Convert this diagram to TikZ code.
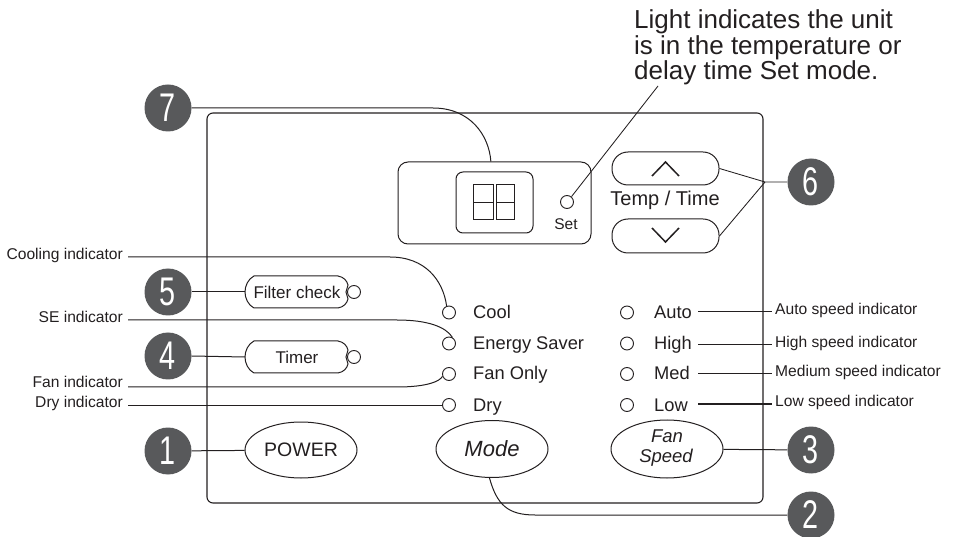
\documentclass[tikz,border=0pt]{standalone}
\usepackage{fontspec}
\setmainfont{Liberation Sans}
\usetikzlibrary{shapes.geometric}
\definecolor{ink}{HTML}{231F20}
\definecolor{badgegray}{HTML}{58595B}
\tikzset{
  ln/.style={draw=ink, line width=1pt},
  thin/.style={draw=ink, line width=0.85pt},
  badgenode/.style={circle, fill=badgegray, minimum size=47pt, inner sep=0pt, text=white,
    font=\fontsize{40}{40}\selectfont},
  led/.style={circle, draw=ink, line width=0.9pt, fill=white, minimum size=13pt, inner sep=0pt},
  lbl/.style={font=\fontsize{15.6}{16}\selectfont, text=ink, inner sep=0pt},
  ind/.style={font=\fontsize{18.3}{19}\selectfont, text=ink, inner sep=0pt},
  oval/.style={ellipse, draw=ink, line width=1pt, inner sep=0pt, text=ink},
  btntext/.style={inner sep=0pt, text=ink, font=\fontsize{17}{17}\selectfont},
  sidebtn/.pic={
    \draw[ln] (254,-16) -- (338,-16) .. controls (344,-15) and (347,-11) .. (348,-7)
      -- (346,0) -- (348,7) .. controls (347,11) and (344,15) .. (338,16)
      -- (254,16) .. controls (248,13) and (245,6) .. (245,0)
      .. controls (245,-6) and (248,-13) .. (254,-16) -- cycle;
  },
}
\begin{document}
\begin{tikzpicture}[x=1pt, y=-1pt]
\useasboundingbox (0,0) rectangle (959,537);

% panel
\node[draw=ink, line width=1.1pt, rounded corners=6pt, minimum width=556pt, minimum height=390pt, inner sep=0pt] (panel) at (485,308) {};

% display
\node[draw=ink, line width=1pt, rounded corners=10pt, minimum width=193pt, minimum height=82pt, inner sep=0pt] (disp) at (494.5,203) {};
\node[draw=ink, line width=1pt, rounded corners=7pt, minimum width=77pt, minimum height=61pt, inner sep=0pt] (inner) at (494.5,202.5) {};
\draw[ln] (473,185) rectangle (493,220) (473,202.5) -- (493,202.5);
\draw[ln] (496,185) rectangle (514,220) (496,202.5) -- (514,202.5);
\node[led] (setled) at (567,202) {};
\node[inner sep=0pt, text=ink, font=\fontsize{15.5}{16}\selectfont, anchor=base] (settxt) at (566,230) {Set};

% top note
\node[inner sep=0pt, text=ink, font=\fontsize{26}{26}\selectfont, anchor=base west] (t1) at (634,29) {Light indicates the unit};
\node[inner sep=0pt, text=ink, font=\fontsize{26}{26}\selectfont, anchor=base west] (t2) at (634,54.5) {is in the temperature or};
\node[inner sep=0pt, text=ink, font=\fontsize{26}{26}\selectfont, anchor=base west] (t3) at (634,80) {delay time Set mode.};
\coordinate (lt) at (658,86);
\draw[thin] (setled.50) -- (lt);

% temp/time buttons
\node[draw=ink, line width=1pt, rounded corners=16pt, minimum width=107pt, minimum height=33pt, inner sep=0pt] (up) at (665.5,168.5) {};
\node[draw=ink, line width=1pt, rounded corners=16pt, minimum width=107pt, minimum height=34pt, inner sep=0pt] (down) at (665.5,236) {};
\draw[draw=ink, line width=1.5pt] (652,176) -- (665.5,162) -- (679,176);
\draw[draw=ink, line width=1.5pt] (652,228) -- (665.5,242) -- (679,228);
\node[inner sep=0pt, text=ink, font=\fontsize{20}{20}\selectfont, anchor=base] (tt) at (665,206) {Temp / Time};

% badges
\node[badgenode] (b7) at (168,108) {\scalebox{0.72}[1]{7}};
\node[badgenode] (b5) at (168,292) {\scalebox{0.72}[1]{5}};
\node[badgenode] (b4) at (168,356) {\scalebox{0.72}[1]{4}};
\node[badgenode] (b1) at (168,451) {\scalebox{0.72}[1]{1}};
\node[badgenode] (b6) at (811,182) {\scalebox{0.72}[1]{6}};
\node[badgenode] (b3) at (811,450) {\scalebox{0.72}[1]{3}};
\node[badgenode] (b2) at (811,515) {\scalebox{0.72}[1]{2}};

% badge leaders
\draw[ln] (b7.east) -- (433,108) .. controls (470,108) and (489,135) .. (disp.95);
\coordinate (j6) at (765,182);
\draw[thin] (b6.west) -- (j6) -- (up.east);
\draw[thin] (j6) -- (down.east);

% side buttons
\pic at (0,292) {sidebtn};
\pic at (0,357) {sidebtn};
\node[btntext, minimum width=104pt, minimum height=32pt] (fc) at (297,292) {Filter check};
\node[btntext, minimum width=104pt, minimum height=32pt] (tm) at (297,357) {Timer};
\node[led] (fcled) at (354,292) {};
\node[led] (tmled) at (354,357) {};
\draw[ln] (b5.east) -- (fc.west);
\draw[ln] (b4.east) -- (tm.west);

% bottom buttons
\node[oval, minimum width=112pt, minimum height=56pt, font=\fontsize{19.5}{20}\selectfont] (power) at (301,450) {POWER};
\node[oval, minimum width=112pt, minimum height=57pt, font=\fontsize{22}{22}\itshape] (mode) at (492,449) {Mode};
\node[oval, minimum width=112pt, minimum height=58pt] (fan) at (667,449) {};
\node[inner sep=0pt, text=ink, font=\fontsize{18.5}{18}\itshape, anchor=base] (fanA) at (667,442) {Fan};
\node[inner sep=0pt, text=ink, font=\fontsize{18.5}{18}\itshape, anchor=base] (fanB) at (666,462) {Speed};
\draw[ln] (b1) -- (power);
\draw[ln] (fan) -- (b3);
\draw[ln] (mode.265) .. controls (497,505) and (508,515) .. (535,515) -- (b2.west);

% left indicator column
\node[led] (lcool) at (449,312.5) {};
\node[led] (lse) at (449,343.5) {};
\node[led] (lfan) at (449,374) {};
\node[led] (ldry) at (449,405) {};
\node[ind, anchor=base west] (tcool) at (473,318.5) {Cool};
\node[ind, anchor=base west] (tse) at (473,349.5) {Energy Saver};
\node[ind, anchor=base west] (tfan) at (473,380) {Fan Only};
\node[ind, anchor=base west] (tdry) at (473,411) {Dry};

% right indicator column
\node[led] (rauto) at (627,312.5) {};
\node[led] (rhigh) at (627,343.5) {};
\node[led] (rmed) at (627,374) {};
\node[led] (rlow) at (627,405) {};
\node[ind, anchor=base west] (tauto) at (654,318.5) {Auto};
\node[ind, anchor=base west] (thigh) at (654,349.5) {High};
\node[ind, anchor=base west] (tmed) at (654,380) {Med};
\node[ind, anchor=base west] (tlow) at (654,411) {Low};

% left labels
\node[lbl, anchor=mid east] (lab1) at (123,257) {Cooling indicator};
\node[lbl, anchor=mid east] (lab2) at (123,320) {SE indicator};
\node[lbl, anchor=base east] (lab3) at (123,388) {Fan indicator};
\node[lbl, anchor=mid east] (lab4) at (123,405) {Dry indicator};
\draw[ln] ([xshift=5pt]lab1.mid east) -- (390,257) .. controls (425,257) and (443,280) .. (lcool.110);
\draw[ln] ([xshift=5pt]lab2.mid east) -- (397,320) .. controls (428,320) and (446,327) .. (lse.60);
\draw[ln] ([shift={(5pt,1pt)}]lab3.base east) -- (397,387) .. controls (428,387) and (440,381) .. (lfan.200);
\draw[ln] ([xshift=5pt]lab4.mid east) -- (ldry.west);

% right labels
\node[lbl, anchor=mid west] (rab1) at (775,312) {Auto speed indicator};
\node[lbl, anchor=mid west] (rab2) at (775,345) {High speed indicator};
\node[lbl, anchor=mid west] (rab3) at (775,374) {Medium speed indicator};
\node[lbl, anchor=mid west] (rab4) at (775,404) {Low speed indicator};
\coordinate (s1) at (698,312);
\coordinate (s2) at (698,345);
\coordinate (s3) at (698,374);
\coordinate (s4) at (698,404);
\draw[ln] (s1) -- ([xshift=-3pt]rab1.mid west);
\draw[ln] (s2) -- ([xshift=-3pt]rab2.mid west);
\draw[ln] (s3) -- ([xshift=-3pt]rab3.mid west);
\draw[ln] (s4) -- ([xshift=-3pt]rab4.mid west);
\end{tikzpicture}
\end{document}
